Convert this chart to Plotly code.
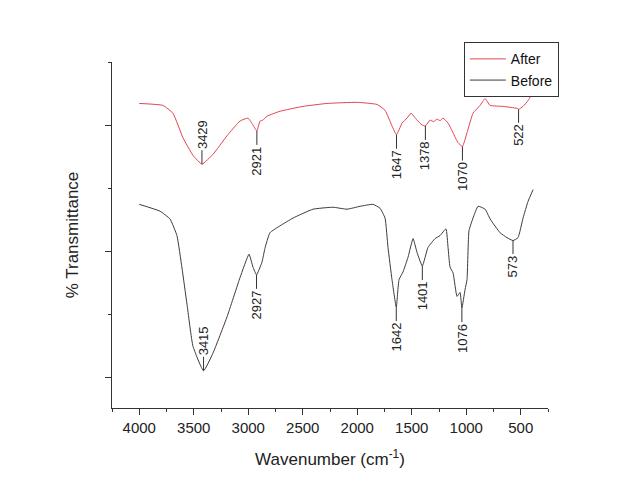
import plotly.graph_objects as go

# ---- data (wavenumber cm^-1, transmittance arbitrary units) ----
after_wn = [4000, 3783, 3691, 3599, 3507, 3425, 3324, 3195, 3076, 3002, 2957, 2921,
            2892, 2865, 2828, 2709, 2498, 2277, 2000, 1819, 1745, 1681, 1640, 1589,
            1543, 1507, 1452, 1406, 1375, 1332, 1300, 1268, 1240, 1213, 1167, 1121,
            1076, 1035, 993, 938, 873, 827, 781, 662, 534, 520, 479, 433, 396]
after_t = [53.48, 53.17, 51.93, 48.04, 45.25, 43.85, 45.40, 48.35, 50.68, 51.15, 50.06, 49.13,
           50.68, 50.84, 51.46, 52.24, 53.01, 53.48, 53.65, 53.32, 52.39, 49.91, 48.51, 50.37,
           51.15, 51.93, 50.84, 50.06, 49.91, 50.84, 50.60, 50.99, 50.75, 51.15, 50.37, 48.82,
           47.27, 46.65, 48.82, 51.93, 53.17, 54.25, 53.17, 53.01, 52.70, 52.55, 53.01, 53.94, 55.03]

before_wn = [4000, 3810, 3718, 3654, 3608, 3562, 3507, 3410, 3324, 3195, 3076, 2993,
             2957, 2924, 2874, 2847, 2801, 2709, 2589, 2406, 2222, 2094, 1974, 1855,
             1791, 1745, 1718, 1681, 1642, 1617, 1580, 1534, 1488, 1452, 1403, 1351,
             1286, 1241, 1186, 1167, 1149, 1121, 1085, 1057, 1040, 1011, 993, 975,
             938, 892, 827, 781, 690, 626, 571, 525, 479, 433, 387]
before_t = [37.48, 36.40, 35.16, 32.52, 27.39, 21.65, 14.97, 11.09, 13.88, 19.63, 25.84, 29.57,
            27.55, 26.30, 28.32, 30.50, 32.98, 34.07, 35.31, 36.71, 37.02, 36.71, 37.17, 37.48,
            36.86, 35.31, 30.65, 25.53, 21.18, 25.53, 26.77, 29.10, 32.05, 29.88, 27.70, 30.65,
            32.05, 32.52, 33.60, 30.65, 27.55, 26.61, 22.89, 23.51, 21.02, 23.98, 25.53, 33.29,
            35.31, 37.17, 36.71, 35.16, 32.98, 32.20, 31.74, 32.20, 35.31, 37.95, 39.81]

# peak positions (as drawn) and their printed labels
after_peak_pos = [3425, 2921, 1640, 1375, 1035, 520]
after_peak_lbl = ["3429", "2921", "1647", "1378", "1070", "522"]
after_peak_up = [True, False, False, False, False, False]

before_peak_pos = [3410, 2924, 1642, 1403, 1040, 571]
before_peak_lbl = ["3415", "2927", "1642", "1401", "1076", "573"]
before_peak_up = [True, False, False, False, False, False]

x_ticks = [4000, 3500, 3000, 2500, 2000, 1500, 1000, 500]

FONT = "Liberation Sans, Arial, sans-serif"

fig = go.Figure()
fig.add_trace(go.Scatter(x=after_wn, y=after_t, mode="lines", name="After",
                         line=dict(color="#e4434e", width=1, shape="spline", smoothing=0.4)))
fig.add_trace(go.Scatter(x=before_wn, y=before_t, mode="lines", name="Before",
                         line=dict(color="#3c3c3c", width=1, shape="spline", smoothing=0.4)))


def interp(xs, ys, x0):
    pts = sorted(zip(xs, ys))
    for (xa, ya), (xb, yb) in zip(pts[:-1], pts[1:]):
        if xa <= x0 <= xb:
            return ya + (yb - ya) * (x0 - xa) / (xb - xa)
    return pts[0][1]


def add_peaks(xs, ys, pos, lbl, up):
    for p, l, u in zip(pos, lbl, up):
        half = 4 * len(l)  # approx half text length in px
        off = 14 + half
        fig.add_annotation(x=p, y=interp(xs, ys, p), text=l, textangle=-90,
                           showarrow=True, arrowhead=0, arrowwidth=1, arrowcolor="#333333",
                           ax=0, ay=-off if u else off, standoff=0,
                           font=dict(family=FONT, size=13, color="#222222"))


add_peaks(after_wn, after_t, after_peak_pos, after_peak_lbl, after_peak_up)
add_peaks(before_wn, before_t, before_peak_pos, before_peak_lbl, before_peak_up)

fig.update_layout(
    width=613, height=470,
    margin=dict(l=104, r=73, t=54, b=62),
    paper_bgcolor="white", plot_bgcolor="white",
    font=dict(family=FONT, color="#222222"),
    showlegend=True,
    legend=dict(x=0.807, y=1.057, xanchor="left", yanchor="top",
                bgcolor="white", bordercolor="#333333", borderwidth=1,
                font=dict(family=FONT, size=14, color="#111111"),
                tracegroupgap=0, itemwidth=36),
)
fig.update_xaxes(range=[4250, 250], tickvals=x_ticks, ticktext=[str(v) for v in x_ticks],
                 ticks="outside", ticklen=6, tickwidth=1, tickcolor="#333333",
                 minor=dict(dtick=250, tick0=0, ticks="outside", ticklen=3, tickcolor="#333333"),
                 showline=True, linecolor="#333333", linewidth=1, showgrid=False, zeroline=False,
                 tickfont=dict(family=FONT, size=15, color="#222222"),
                 title=dict(text="Wavenumber (cm<sup>-1</sup>)", standoff=18,
                            font=dict(family=FONT, size=17, color="#222222")))
fig.update_yaxes(range=[5.19, 60.05], tick0=10, dtick=20, showticklabels=False,
                 ticks="outside", ticklen=6, tickwidth=1, tickcolor="#333333",
                 minor=dict(dtick=10, tick0=0, ticks="outside", ticklen=3, tickcolor="#333333"),
                 showline=True, linecolor="#333333", linewidth=1, showgrid=False, zeroline=False,
                 title=dict(text="% Transmittance", standoff=22,
                            font=dict(family=FONT, size=17, color="#222222")))

fig.write_html("out.html")
